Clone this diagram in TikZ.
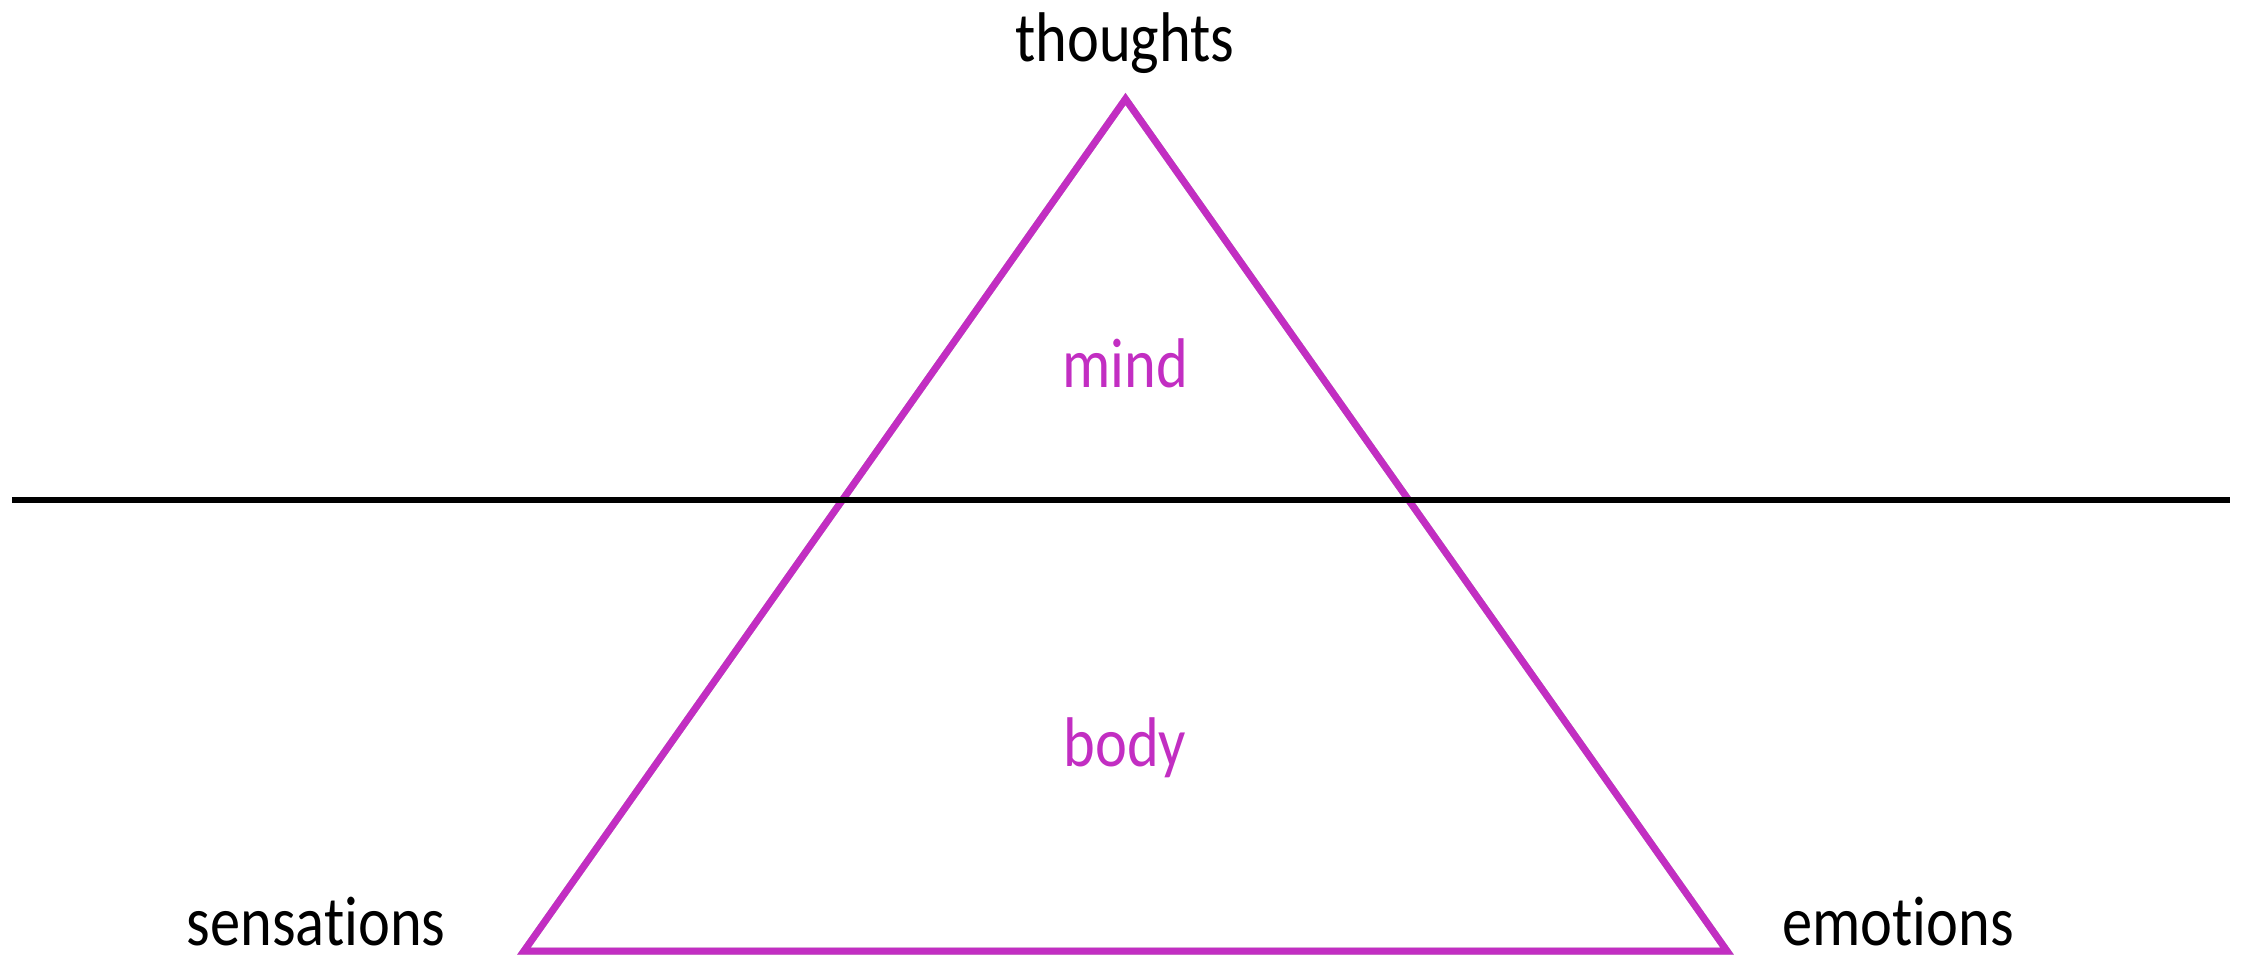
\documentclass[tikz,border=0pt]{standalone}
\usepackage{fontspec}
\newfontfamily\labelfont{Carlito}[FakeStretch=0.86,Ligatures=NoCommon]
\usetikzlibrary{arrows,shapes}
\definecolor{mindpink}{RGB}{194,46,194}
\tikzstyle{pole}=[anchor=base,inner sep=0pt,font=\labelfont\fontsize{20}{24}\selectfont]
\tikzstyle{part}=[pole,text=mindpink]
\tikzstyle{edge}=[line width=2pt,line join=miter]

\begin{document}
\begin{tikzpicture}
\useasboundingbox (0,0) rectangle (22.46,9.60);
\coordinate (T) at (11.255,8.61);
\coordinate (L) at (5.24,0.09);
\coordinate (R) at (17.27,0.09);
\coordinate (W) at (0.12,4.60);
\coordinate (E) at (22.30,4.60);
\node[pole] (th) at (11.25,8.99) {thoughts};
\node[pole] (se) at (3.16,0.15) {sensations};
\node[pole] (em) at (18.98,0.15) {emotions};
\node[part] (mi) at (11.25,5.73) {mind};
\node[part] (bo) at (11.25,1.94) {body};
\draw[edge,black!40,opacity=.6,shift={(0.035,-0.035)}](T)--(R)--(L)--cycle;
\draw[edge,mindpink](T)--(R)--(L)--cycle;
\draw[line width=1.7pt](W)--(E);
\end{tikzpicture}
\end{document}
